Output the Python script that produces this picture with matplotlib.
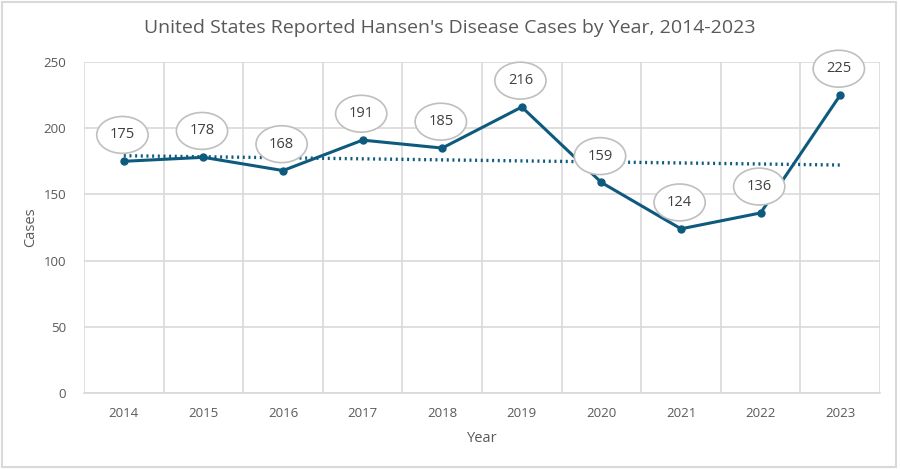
import numpy as np
import matplotlib
matplotlib.use("Agg")
import matplotlib.pyplot as plt
from matplotlib.patches import Rectangle

years = ["2014", "2015", "2016", "2017", "2018", "2019", "2020", "2021", "2022", "2023"]
cases = [175, 178, 168, 191, 185, 216, 159, 124, 136, 225]

plt.rcParams['font.family'] = ['Open Sans', 'DejaVu Sans']

color_line = "#0E5A7E"
grid_col = "#D9D9D9"
txt_col = "#595959"

fig = plt.figure(figsize=(9, 4.69), dpi=100)
ax = fig.add_axes([84 / 900, 1 - 393 / 469, 796 / 900, 331 / 469])

x = np.arange(len(years))
ax.plot(x, cases, color=color_line, lw=2.2, marker='o', ms=5, zorder=3)

# linear trendline
k, b = np.polyfit(x, cases, 1)
ax.plot(x, k * x + b, color=color_line, lw=2.4, ls=(0, (0.6, 1.1)), zorder=2)

for xi, v in zip(x, cases):
    ax.annotate(str(v), (xi, v), xytext=(-1, 19), textcoords='offset points',
                ha='center', va='center', fontsize=10.5, color="#404040",
                bbox=dict(boxstyle='ellipse,pad=0.38', fc='white', ec='#BFBFBF', lw=1.2),
                zorder=4)

ax.set_xlim(-0.5, len(years) - 0.5)
ax.set_ylim(0, 250)
ax.set_yticks(range(0, 251, 50))
ax.set_xticks(x)
ax.set_xticklabels(years)
ax.set_xticks(np.arange(-0.5, len(years), 1), minor=True)
ax.grid(True, which='minor', axis='x', color=grid_col, lw=1.2)
ax.grid(True, which='major', axis='y', color=grid_col, lw=1.2)
ax.tick_params(which='both', length=0, colors=txt_col, labelsize=9.5)
ax.tick_params(axis='x', pad=10)
ax.tick_params(axis='y', pad=13)
for s in ['top', 'right', 'left']:
    ax.spines[s].set_visible(False)
ax.spines['bottom'].set_color(grid_col)
ax.spines['bottom'].set_linewidth(1.2)

ax.set_xlabel("Year", fontsize=10.5, color=txt_col, labelpad=8)
ax.set_ylabel("Cases", fontsize=10.5, color=txt_col, labelpad=4)

fig.text(0.5, 1 - 28 / 469, "United States Reported Hansen's Disease Cases by Year, 2014-2023",
         ha='center', va='center', fontsize=14, color=txt_col)

fig.patches.append(Rectangle((0.002, 0.004), 0.994, 0.992, transform=fig.transFigure,
                             fill=False, ec=grid_col, lw=1.5))

fig.savefig("out.png", dpi=100)
